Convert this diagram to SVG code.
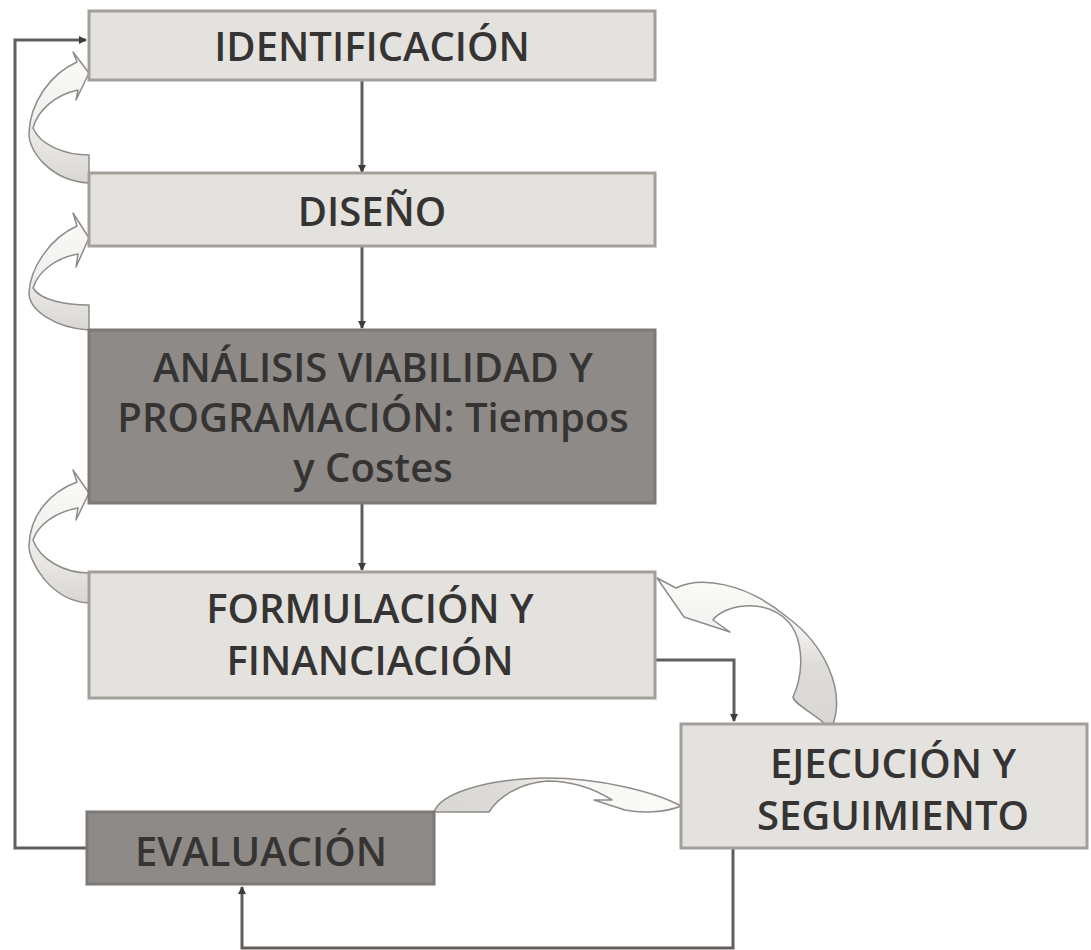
<svg xmlns="http://www.w3.org/2000/svg" width="1091" height="950" viewBox="0 0 1091 950">
<style>
.light{fill:#e4e2df;stroke:#a3a09c;stroke-width:3}
.dark{fill:#8d8a87;stroke:#7c7976;stroke-width:3}
.t{font-family:"Open Sans","Liberation Sans",sans-serif;font-weight:600;font-size:40px;fill:#363432;text-anchor:middle}
.ln{fill:none;stroke:#615e5b;stroke-width:3}
.ba{stroke:#8e8b88;stroke-width:1.5;stroke-linejoin:round}
.bv{fill:url(#gv)}
.br{fill:url(#gr)}
.bh{fill:url(#gh)}
</style>
<defs>
<marker id="ah" markerWidth="8" markerHeight="8" refX="7" refY="4" orient="auto" markerUnits="userSpaceOnUse">
<path d="M0,0 L8,4 L0,8 Z" fill="#3e3c3a"/>
</marker>
<linearGradient id="gv" x1="0" y1="0" x2="0" y2="1">
<stop offset="0" stop-color="#fbfbfa"/>
<stop offset="0.5" stop-color="#f1f0ee"/>
<stop offset="1" stop-color="#d9d7d3"/>
</linearGradient>
<linearGradient id="gr" x1="0" y1="0" x2="0" y2="1">
<stop offset="0" stop-color="#fbfbfa"/>
<stop offset="0.35" stop-color="#f3f2f0"/>
<stop offset="0.6" stop-color="#dedcd8"/>
<stop offset="1" stop-color="#d9d7d3"/>
</linearGradient>
<linearGradient id="gh" x1="0" y1="0" x2="1" y2="0">
<stop offset="0" stop-color="#d9d7d3"/>
<stop offset="0.3" stop-color="#dedcd8"/>
<stop offset="0.5" stop-color="#f6f5f3"/>
<stop offset="1" stop-color="#fbfbfa"/>
</linearGradient>
</defs>
<rect width="1091" height="950" fill="#ffffff"/>
<g id="curved-arrows">
<path class="ba bv" d="M89,183 C50,181 28,150 29,133 C30,103 50,74 77,62 L73,52 L89,73 L76,100 L78,90 C55,95 38,110 33,128 C40,145 65,155 89,155 Z"/>
<path class="ba bv" d="M89,330 C55,328 29,310 29,293 C30,268 50,238 77,226 L73,213 L89,238 L76,267 L78,254 C55,258 38,272 33,288 C40,300 65,305 89,305 Z"/>
<path class="ba bv" d="M89,603 C50,601 28,560 29,545 C30,515 50,492 77,482 L73,470 L89,493 L76,520 L78,508 C55,512 38,525 33,540 C40,560 65,573 89,573 Z"/>
<path class="ba br" d="M657,578 L676,588 C700,576 745,582 787,617 C825,645 845,690 833,724 L825,724 C812,712 795,705 793,697 C803,675 803,650 795,632 C788,617 770,604 745,606 C730,607 718,613 713,620 L730,632 L684,617 Z"/>
<path class="ba bh" d="M434,812 C440,795 480,779 547,778 C600,778 655,792 681,806 C665,813 640,813 625,810 L594,800 L612,800 C590,786 568,781 547,781 C520,783 498,797 489,812 Z"/>
</g>
<g id="connectors">
<path class="ln" d="M362,80 V172" marker-end="url(#ah)"/>
<path class="ln" d="M362,246 V328" marker-end="url(#ah)"/>
<path class="ln" d="M362,503 V570" marker-end="url(#ah)"/>
<path class="ln" d="M655,660 H734 V721" marker-end="url(#ah)"/>
<path class="ln" d="M733,848 V948 H242 V887" marker-end="url(#ah)"/>
<path class="ln" d="M87,848 H15 V40 H86" marker-end="url(#ah)"/>
</g>
<g id="identificacion">
<rect class="light" x="89" y="11" width="566" height="69"/>
<text class="t" x="372" y="61">IDENTIFICACIÓN</text>
</g>
<g id="diseno">
<rect class="light" x="89" y="173" width="566" height="73"/>
<text class="t" x="372" y="226">DISEÑO</text>
</g>
<g id="analisis">
<rect class="dark" x="89" y="330" width="566" height="173"/>
<text class="t" x="373" y="382">ANÁLISIS VIABILIDAD Y</text>
<text class="t" x="373" y="432">PROGRAMACIÓN: Tiempos</text>
<text class="t" x="373" y="482">y Costes</text>
</g>
<g id="formulacion">
<rect class="light" x="89" y="572" width="566" height="126"/>
<text class="t" x="370" y="623">FORMULACIÓN Y</text>
<text class="t" x="370" y="675">FINANCIACIÓN</text>
</g>
<g id="ejecucion">
<rect class="light" x="681" y="724" width="406" height="124"/>
<text class="t" x="893" y="778">EJECUCIÓN Y</text>
<text class="t" x="893" y="830">SEGUIMIENTO</text>
</g>
<g id="evaluacion">
<rect class="dark" x="87" y="812" width="347" height="72"/>
<text class="t" x="261" y="866">EVALUACIÓN</text>
</g>
</svg>
